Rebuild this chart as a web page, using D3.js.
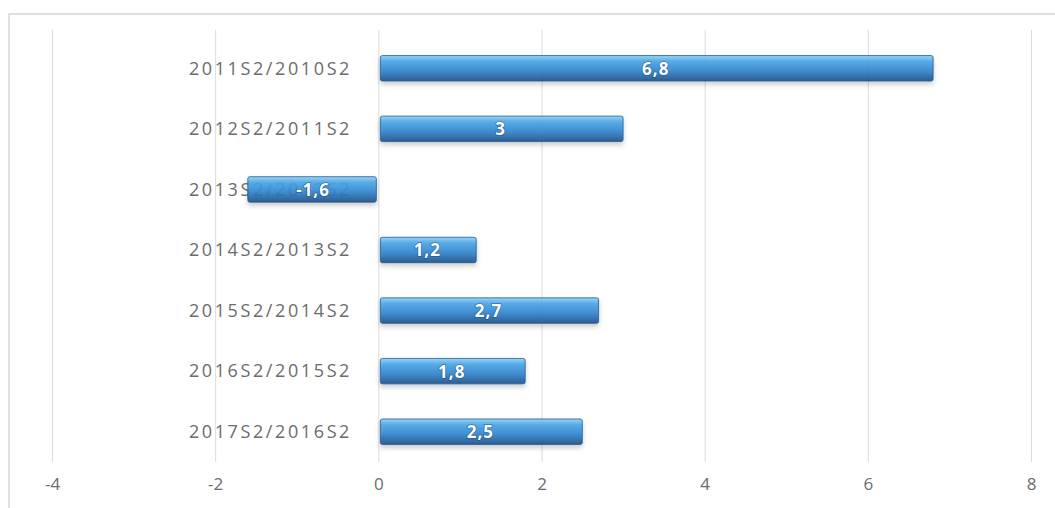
<!DOCTYPE html>
<html>
<head>
<meta charset="utf-8">
<script src="https://cdn.jsdelivr.net/npm/d3@7"></script>
<style>
  body { margin: 0; background: #fff; }
  .cat { font-family: "Open Sans", sans-serif; font-size: 18px; letter-spacing: 2.6px; fill: #6b6b6b; }
  .tick text { font-family: "Open Sans", sans-serif; font-size: 17px; fill: #6b6b6b; }
  .val { font-family: "Open Sans", sans-serif; font-size: 17px; font-weight: bold; letter-spacing: 1px; fill: #fff; }
</style>
</head>
<body>
<svg width="1055" height="508"></svg>
<script>
// data
var categories = ["2011S2/2010S2", "2012S2/2011S2", "2013S2/2012S2", "2014S2/2013S2",
                  "2015S2/2014S2", "2016S2/2015S2", "2017S2/2016S2"];
var values = [6.8, 3, -1.6, 1.2, 2.7, 1.8, 2.5];
var xTicks = [-4, -2, 0, 2, 4, 6, 8];

var svg = d3.select("svg");

var x = d3.scaleLinear().domain([-4, 8]).range([52, 1031]);
var y = d3.scaleBand().domain(categories).range([38, 462])
    .paddingInner(0.58).paddingOuter(0.29);

var fmt = function(d) { return String(d).replace(".", ","); };

// gradients & shadow
var defs = svg.append("defs");
var grad = defs.append("linearGradient").attr("id", "barGrad")
    .attr("x1", 0).attr("y1", 0).attr("x2", 0).attr("y2", 1);
grad.append("stop").attr("offset", "0%").attr("stop-color", "#8fd0f7");
grad.append("stop").attr("offset", "22%").attr("stop-color", "#4aa6e6");
grad.append("stop").attr("offset", "60%").attr("stop-color", "#2f85cf");
grad.append("stop").attr("offset", "100%").attr("stop-color", "#1c4f86");

var sh = defs.append("filter").attr("id", "shadow")
    .attr("x", "-5%").attr("y", "-30%").attr("width", "110%").attr("height", "190%");
sh.append("feDropShadow").attr("dx", 0).attr("dy", 3).attr("stdDeviation", 2.5)
    .attr("flood-color", "#000").attr("flood-opacity", 0.22);

// outer frame
svg.append("rect")
    .attr("x", 9).attr("y", 14).attr("width", 1100).attr("height", 600)
    .attr("fill", "none").attr("stroke", "#d6d6d6").attr("stroke-width", 1.5);

// gridlines
svg.append("g").selectAll("line").data(xTicks).enter().append("line")
    .attr("x1", function(d) { return x(d) + 0.5; })
    .attr("x2", function(d) { return x(d) + 0.5; })
    .attr("y1", 30).attr("y2", 462)
    .attr("stroke", "#dcdcdc").attr("stroke-width", 1);

// x axis labels
var xAxis = svg.append("g")
    .attr("transform", "translate(0,462)")
    .call(d3.axisBottom(x).tickValues(xTicks).tickSize(0).tickPadding(16)
        .tickFormat(function(d) { return d; }));
xAxis.select(".domain").remove();

// category labels
svg.append("g").selectAll("text").data(categories).enter().append("text")
    .attr("class", "cat")
    .attr("x", 352)
    .attr("y", function(d) { return y(d) + y.bandwidth() / 2; })
    .attr("dy", "0.35em")
    .attr("text-anchor", "end")
    .text(function(d) { return d; });

// bars
svg.append("g").selectAll("rect").data(values).enter().append("rect")
    .attr("x", function(d) { return x(Math.min(0, d)) + (d < 0 ? 0 : 2); })
    .attr("y", function(d, i) { return y(categories[i]); })
    .attr("width", function(d) { return Math.abs(x(d) - x(0)) - 2; })
    .attr("height", y.bandwidth())
    .attr("rx", 2)
    .attr("fill", "url(#barGrad)")
    .attr("fill-opacity", 0.9)
    .attr("stroke", "#1f5a92").attr("stroke-width", 0.8)
    .attr("filter", "url(#shadow)");

// value labels
svg.append("g").selectAll("text").data(values).enter().append("text")
    .attr("class", "val")
    .attr("x", function(d) { return (x(d) + x(0)) / 2; })
    .attr("y", function(d, i) { return y(categories[i]) + y.bandwidth() / 2; })
    .attr("dy", "0.38em")
    .attr("text-anchor", "middle")
    .style("paint-order", "stroke")
    .style("stroke", "rgba(20,60,110,0.5)").style("stroke-width", 1.5)
    .text(fmt);
</script>
</body>
</html>
